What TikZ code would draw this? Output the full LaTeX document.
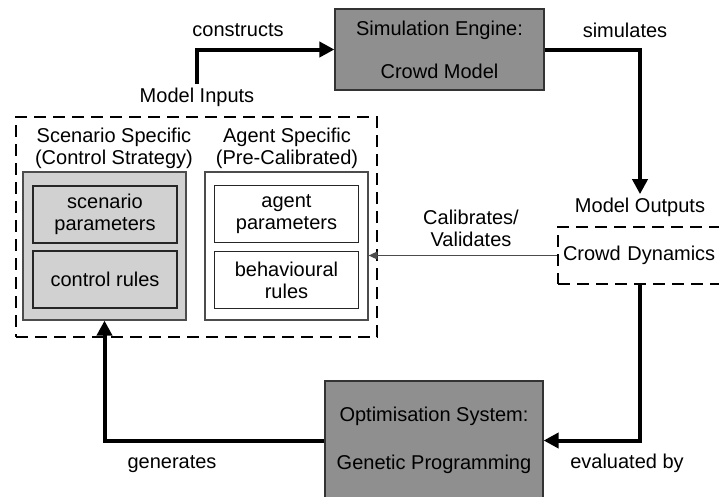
\documentclass[tikz,border=0pt]{standalone}
\usepackage{fontspec}
\setmainfont{Liberation Sans}
\usetikzlibrary{arrows.meta}
\usetikzlibrary{calc}

\begin{document}
\begin{tikzpicture}[x=1pt,y=-1pt,
    every node/.style={font=\fontsize{20}{22}\selectfont},
    system/.style={draw=black!80,line width=1.2pt,fill=black!44,align=center,inner sep=0pt},
    group/.style={draw=black!70,line width=1.2pt,inner sep=0pt,minimum width=163pt,minimum height=148pt},
    item/.style={draw=black!85,line width=1.2pt,align=center,inner sep=0pt,minimum width=144pt,minimum height=57pt},
    dashbox/.style={draw,line width=2.5pt,dash pattern=on 12pt off 7pt,inner sep=0pt},
    flow/.style={line width=4pt,-{Triangle[length=15pt,width=15pt]}},
    feedback/.style={draw=black!70,line width=1.3pt,-{Triangle[length=9pt,width=8pt]}}
    ]
    % Fix the page size
    \useasboundingbox (0,0) rectangle (719,496);

    % Draw the two systems
    \node[system,minimum width=209pt,minimum height=81pt] (sim) at (439.5,49.5)
        {Simulation Engine:\\[21pt]Crowd Model};
    \node[system,minimum width=218pt,minimum height=119pt] (opt) at (434,440.5)
        {Optimisation System:\\[26pt]Genetic Programming};

    % Draw the model inputs
    \node[dashbox,minimum width=361pt,minimum height=220pt] (inputs) at (196.5,227) {};
    \node (milabel) at (197,97) {Model Inputs};
    \node[group,fill=black!18] (scen) at (104.5,246) {};
    \node[group] (agent) at (286.5,246) {};
    \node[align=center] (scenhead) at (114,148) {Scenario Specific\\(Control Strategy)};
    \node[align=center] (agenthead) at (287,148) {Agent Specific\\(Pre-Calibrated)};
    \node[item,fill=black!18] (spar) at (105,214.5) {scenario\\parameters};
    \node[item,fill=black!18] (crules) at (105,279.5) {control rules};
    \node[item] (apar) at (286.5,214) {agent\\parameters};
    \node[item] (brules) at (286.5,280) {behavioural\\rules};

    % Draw the model outputs
    \node (molabel) at (640,207) {Model Outputs};
    \node[dashbox,minimum height=57pt,text width=176pt,inner xsep=5pt,align=left]
        (cd) at (651,255.5) {Crowd Dynamics};

    % Draw the connectors
    \draw[flow] (milabel.north) |- (sim.west);
    \draw[flow] (sim.east) -| (molabel.north);
    \draw[feedback] (cd.west) -- (cd.west -| agent.east);
    \draw[flow] (cd.south -| molabel.south) |- (opt.east);
    \draw[flow] (opt.west) -| (scen.south);

    % Draw the connector labels
    \node (constructs) at (238,30) {constructs};
    \node (simulates) at (625,30) {simulates};
    \node[align=center] (calibrates) at (471,228) {Calibrates/\\Validates};
    \node (generates) at (172,464) {generates};
    \node (evaluated) at (627,463) {evaluated by};
\end{tikzpicture}
\end{document}
